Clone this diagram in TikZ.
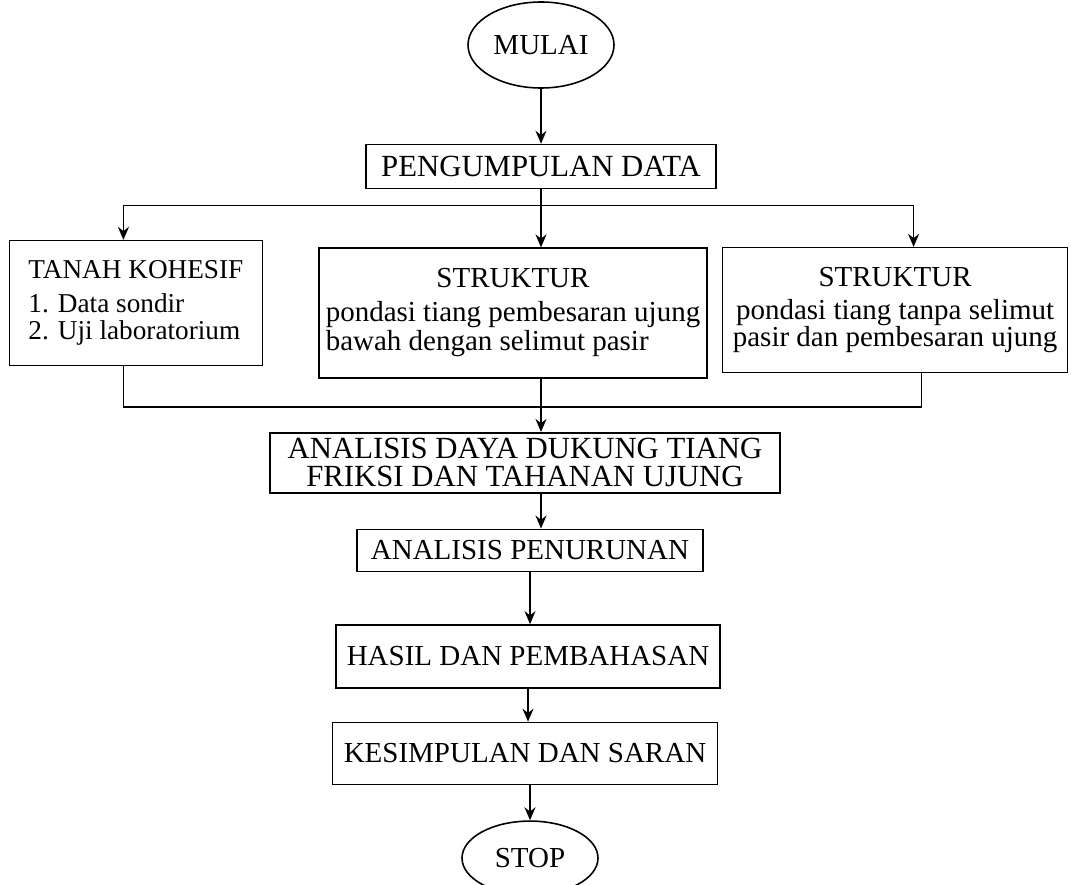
\documentclass[tikz,border=0pt]{standalone}
\usepackage{fontspec}
\setmainfont{Liberation Serif}
\usetikzlibrary{arrows.meta, positioning, shapes.geometric, calc}
\tikzset{
  process/.style={
    draw=black,
    line width=0.9pt,
    align=center,
    inner sep=0.08cm,
    font=\fontsize{16.5}{15.5}\selectfont
  },
  terminal/.style={
    ellipse,
    draw=black,
    line width=0.9pt,
    inner sep=0.05cm,
    font=\fontsize{16.5}{15.5}\selectfont
  },
  arrow/.style={draw,line width=0.9pt,->,>={Stealth[length=2.6mm,width=2.2mm]}},
  link/.style={draw,line width=0.9pt}
}

\begin{document}
\begin{tikzpicture}
  \useasboundingbox (0,0) rectangle (21.42,-17.7);
  \node (mulai) [terminal, minimum width=2.92cm, minimum height=1.72cm] at (10.82,-0.9) {MULAI};
  \node (data) [process, minimum width=7cm, minimum height=0.88cm,
    font=\fontsize{17.5}{16}\selectfont, below=1.1cm of mulai] {PENGUMPULAN DATA};
  \node (strukA) [process, minimum width=7.76cm, minimum height=2.6cm,
    below=1.16cm of data, xshift=-0.56cm]
    {\begin{tabular}{@{}l@{}}\multicolumn{1}{@{}c@{}}{STRUKTUR}\\[3.5pt]
     pondasi tiang pembesaran ujung\\ bawah dengan selimut pasir\end{tabular}};
  \node (tanah) [process, minimum width=5.06cm, minimum height=2.5cm, align=left,
    font=\fontsize{15.5}{15.5}\selectfont, left=1.1cm of strukA, yshift=0.2cm]
    {TANAH KOHESIF\\[3.5pt] 1. Data sondir\\ 2. Uji laboratorium};
  \node (strukB) [process, minimum width=6.9cm, minimum height=2.5cm,
    right=0.28cm of strukA, yshift=0.06cm]
    {STRUKTUR\\[3.5pt] pondasi tiang tanpa selimut\\ pasir dan pembesaran ujung};
  \node (analisis) [process, minimum width=10.2cm, minimum height=1.2cm, inner sep=0.02cm,
    font=\fontsize{17.5}{16}\selectfont, below=1.06cm of strukA, xshift=0.24cm]
    {ANALISIS DAYA DUKUNG TIANG\\ FRIKSI DAN TAHANAN UJUNG};
  \node (turun) [process, minimum width=6.92cm, minimum height=0.84cm,
    below=0.7cm of analisis, xshift=0.1cm] {ANALISIS PENURUNAN};
  \node (hasil) [process, minimum width=7.68cm, minimum height=1.26cm,
    below=1.04cm of turun, xshift=-0.04cm] {HASIL DAN PEMBAHASAN};
  \node (simpul) [process, minimum width=7.7cm, minimum height=1.24cm,
    below=0.66cm of hasil, xshift=-0.06cm] {KESIMPULAN DAN SARAN};
  \node (stop) [terminal, minimum width=2.72cm, minimum height=1.48cm,
    below=0.7cm of simpul, xshift=0.1cm] {STOP};

  % branching to the three input boxes
  \coordinate (split) at ($(data.south)+(0,-0.32)$);
  \coordinate (merge) at ($(strukA.south)+(0,-0.56)$);
  \draw [arrow] (mulai) -- (data);
  \draw [link] (data.south) -- (split);
  \draw [arrow] (split) -- (split |- strukA.north);
  \draw [arrow] (split) -| ([xshift=-0.25cm]tanah.north);
  \draw [arrow] (split) -| ([xshift=0.37cm]strukB.north);

  % joining back into the analysis
  \draw [link] ([xshift=-0.25cm]tanah.south) |- (merge) -| ([xshift=0.53cm]strukB.south);
  \draw [arrow] (strukA.south -| split) -- (split |- analisis.north);
  \draw [arrow] (analisis.south -| split) -- (split |- turun.north);
  \draw [arrow] (turun.south) -- (turun.south |- hasil.north);
  \draw [arrow] (hasil.south) -- (hasil.south |- simpul.north);
  \draw [arrow] (stop.north |- simpul.south) -- (stop.north);
\end{tikzpicture}
\end{document}
